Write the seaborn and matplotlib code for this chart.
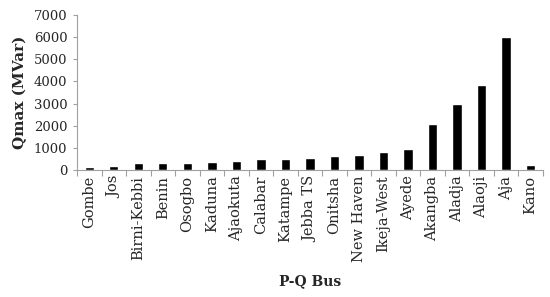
import numpy as np
import pandas as pd
import matplotlib
matplotlib.use('Agg')
import matplotlib.pyplot as plt
import seaborn as sns

# data
buses = ['Gombe', 'Jos', 'Birni-Kebbi', 'Benin', 'Osogbo', 'Kaduna', 'Ajaokuta',
         'Calabar', 'Katampe', 'Jebba TS', 'Onitsha', 'New Haven', 'Ikeja-West',
         'Ayede', 'Akangba', 'Aladja', 'Alaoji', 'Aja', 'Kano']
qmax = [135, 180, 315, 315, 330, 360, 390, 490, 480, 525, 630, 660, 800,
        930, 2060, 3000, 3840, 6000, 240]
yticks = [0, 1000, 2000, 3000, 4000, 5000, 6000, 7000]

df = pd.DataFrame({'bus': buses, 'q': qmax})

sns.set_style('white')
plt.rcParams['font.family'] = ['DejaVu Serif']

fig = plt.figure(figsize=(5.5, 2.97), dpi=100)
ax = fig.add_axes([0.140, 0.4276, 0.847, 0.522])

sns.barplot(data=df, x='bus', y='q', color='black', width=0.38,
            saturation=1, ax=ax)

ax.set_ylim(0, 7000)
ax.set_yticks(yticks)
ax.set_xlim(-0.5, len(buses) - 0.5)

# excel style ticks between categories
ax.set_xticks(np.arange(-0.5, len(buses), 1), minor=True)
ax.tick_params(axis='x', which='major', length=0, labelsize=10.5, rotation=90, pad=4)
ax.tick_params(axis='x', which='minor', length=4, color='#a0a0a0', width=0.8,
               direction='out', bottom=True)
ax.tick_params(axis='y', length=3, color='#a0a0a0', width=0.8, labelsize=9.5,
               direction='out', left=True, pad=4)

for s in ['top', 'right']:
    ax.spines[s].set_visible(False)
for s in ['left', 'bottom']:
    ax.spines[s].set_color('#a0a0a0')
    ax.spines[s].set_linewidth(0.8)

ax.set_ylabel('Qmax (MVar)', fontsize=11, fontweight='bold', labelpad=5)
ax.set_xlabel('P-Q Bus', fontsize=10, fontweight='bold', labelpad=9)

fig.savefig('out.png', dpi=100)
